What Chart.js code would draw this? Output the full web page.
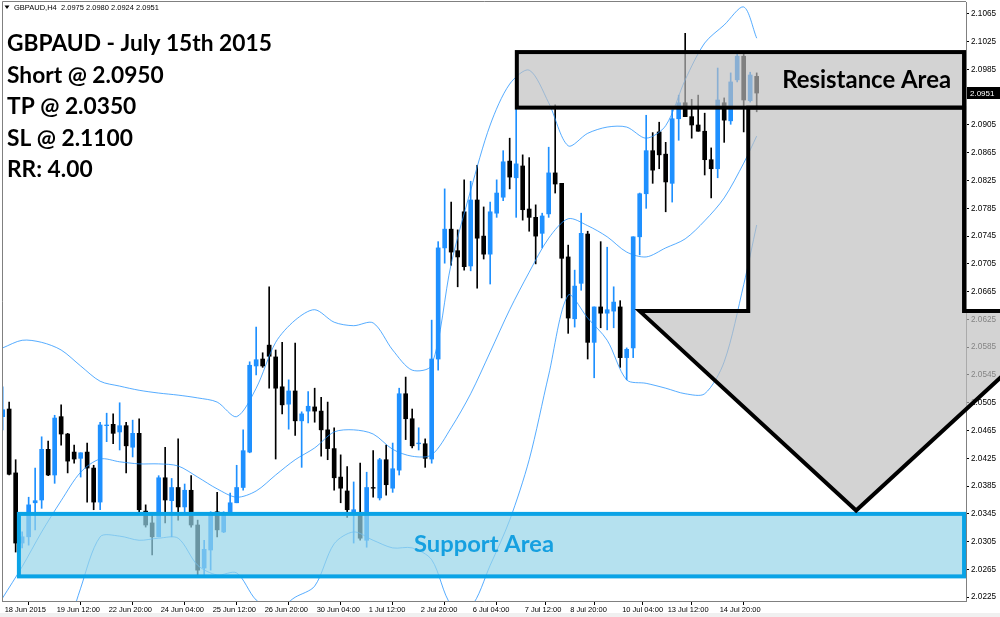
<!DOCTYPE html>
<html lang="en">
<head>
  <meta charset="UTF-8">
  <title>GBPAUD H4</title>
  <script src="https://cdn.jsdelivr.net/npm/chart.js"></script>
  <style>
    html, body { margin: 0; padding: 0; background: #fff; }
    canvas { display: block; }
  </style>
</head>
<body>
  <canvas id="chart" width="1000" height="617"></canvas>

  <script>
    // H4 candles, 18 Jun 2015 -> 15 Jul 2015
    const opens = [
      2.0485, 2.0496, 2.0404, 2.0303, 2.0312, 2.0361, 2.0365, 2.0438, 2.0401, 2.0485,
      2.0460, 2.0434, 2.0425, 2.0434, 2.0411, 2.0362, 2.0472, 2.0474, 2.0463, 2.0472,
      2.0441, 2.0461, 2.0349, 2.0332, 2.0312, 2.0397, 2.0364, 2.0383, 2.0355, 2.0379,
      2.0329, 2.0267, 2.0293, 2.0348, 2.0319, 2.0348, 2.0361, 2.0383, 2.0434, 2.0558,
      2.0568, 2.0588, 2.0571, 2.0528, 2.0503, 2.0522, 2.0479, 2.0493, 2.0499, 2.0493,
      2.0466, 2.0439, 2.0398, 2.0378, 2.0348, 2.0346, 2.0307, 2.0383, 2.0368, 2.0423,
      2.0382, 2.0408, 2.0518, 2.0482, 2.0446, 2.0446, 2.0424, 2.0568, 2.0728, 2.0755,
      2.0724, 2.0780, 2.0702, 2.0797, 2.0745, 2.0719, 2.0778, 2.0801, 2.0853, 2.0829,
      2.0846, 2.0784, 2.0772, 2.0749, 2.0777, 2.0836, 2.0821, 2.0715, 2.0626, 2.0677,
      2.0748, 2.0592, 2.0643, 2.0634, 2.0637, 2.0643, 2.0570, 2.0584, 2.0744, 2.0806,
      2.0868, 2.0895, 2.0863, 2.0821, 2.0914, 2.0937, 2.0917, 2.0905, 2.0896, 2.0855,
      2.0842, 2.0937, 2.0911, 2.0970, 2.1004, 2.0940, 2.0975
    ];
    const highs = [
      2.0528, 2.0506, 2.0423, 2.0319, 2.0369, 2.0411, 2.0456, 2.0450, 2.0487, 2.0502,
      2.0461, 2.0444, 2.0433, 2.0447, 2.0415, 2.0477, 2.0490, 2.0489, 2.0505, 2.0477,
      2.0480, 2.0482, 2.0358, 2.0343, 2.0400, 2.0441, 2.0396, 2.0453, 2.0388, 2.0400,
      2.0336, 2.0307, 2.0348, 2.0376, 2.0348, 2.0375, 2.0415, 2.0466, 2.0564, 2.0614,
      2.0577, 2.0672, 2.0581, 2.0592, 2.0538, 2.0591, 2.0492, 2.0521, 2.0526, 2.0513,
      2.0506, 2.0469, 2.0430, 2.0413, 2.0391, 2.0418, 2.0405, 2.0436, 2.0425, 2.0444,
      2.0447, 2.0526, 2.0542, 2.0496, 2.0469, 2.0453, 2.0624, 2.0737, 2.0813, 2.0794,
      2.0754, 2.0826, 2.0824, 2.0847, 2.0787, 2.0794, 2.0826, 2.0868, 2.0886, 2.0934,
      2.0862, 2.0858, 2.0790, 2.0778, 2.0873, 2.0934, 2.0821, 2.0732, 2.0696, 2.0778,
      2.0752, 2.0643, 2.0737, 2.0729, 2.0672, 2.0652, 2.0584, 2.0744, 2.0807, 2.0919,
      2.0894, 2.0909, 2.0880, 2.0927, 2.0948, 2.1037, 2.0942, 2.0948, 2.0922, 2.0872,
      2.0987, 2.0944, 2.0980, 2.1009, 2.1009, 2.0981, 2.0980
    ];
    const lows = [
      2.0466, 2.0401, 2.0290, 2.0296, 2.0300, 2.0322, 2.0353, 2.0400, 2.0389, 2.0444,
      2.0404, 2.0418, 2.0398, 2.0362, 2.0351, 2.0351, 2.0449, 2.0446, 2.0437, 2.0404,
      2.0427, 2.0348, 2.0326, 2.0286, 2.0312, 2.0332, 2.0312, 2.0336, 2.0348, 2.0326,
      2.0254, 2.0257, 2.0264, 2.0312, 2.0318, 2.0348, 2.0361, 2.0379, 2.0433, 2.0545,
      2.0556, 2.0526, 2.0424, 2.0489, 2.0467, 2.0458, 2.0412, 2.0476, 2.0477, 2.0428,
      2.0423, 2.0379, 2.0361, 2.0340, 2.0303, 2.0307, 2.0297, 2.0369, 2.0365, 2.0372,
      2.0376, 2.0401, 2.0452, 2.0440, 2.0437, 2.0412, 2.0418, 2.0552, 2.0706, 2.0703,
      2.0672, 2.0696, 2.0695, 2.0670, 2.0712, 2.0676, 2.0772, 2.0796, 2.0813, 2.0772,
      2.0768, 2.0752, 2.0705, 2.0728, 2.0772, 2.0807, 2.0656, 2.0605, 2.0614, 2.0667,
      2.0568, 2.0541, 2.0613, 2.0610, 2.0613, 2.0556, 2.0538, 2.0570, 2.0718, 2.0785,
      2.0821, 2.0842, 2.0780, 2.0794, 2.0883, 2.0917, 2.0886, 2.0896, 2.0833, 2.0800,
      2.0829, 2.0880, 2.0906, 2.0967, 2.0895, 2.0938, 2.0924
    ];
    const closes = [
      2.0495, 2.0402, 2.0303, 2.0312, 2.0358, 2.0364, 2.0438, 2.0401, 2.0483, 2.0460,
      2.0421, 2.0424, 2.0433, 2.0411, 2.0362, 2.0473, 2.0473, 2.0461, 2.0472, 2.0443,
      2.0461, 2.0351, 2.0329, 2.0312, 2.0397, 2.0365, 2.0383, 2.0355, 2.0379, 2.0329,
      2.0264, 2.0294, 2.0346, 2.0322, 2.0346, 2.0361, 2.0383, 2.0436, 2.0559, 2.0567,
      2.0558, 2.0572, 2.0526, 2.0502, 2.0522, 2.0479, 2.0489, 2.0500, 2.0493, 2.0466,
      2.0439, 2.0397, 2.0382, 2.0351, 2.0351, 2.0310, 2.0383, 2.0382, 2.0423, 2.0387,
      2.0410, 2.0518, 2.0482, 2.0443, 2.0447, 2.0425, 2.0568, 2.0728, 2.0755, 2.0722,
      2.0715, 2.0701, 2.0797, 2.0742, 2.0719, 2.0780, 2.0807, 2.0852, 2.0830, 2.0849,
      2.0783, 2.0772, 2.0745, 2.0774, 2.0836, 2.0820, 2.0713, 2.0627, 2.0673, 2.0749,
      2.0592, 2.0643, 2.0634, 2.0639, 2.0650, 2.0570, 2.0582, 2.0744, 2.0806, 2.0868,
      2.0840, 2.0862, 2.0823, 2.0914, 2.0937, 2.0917, 2.0905, 2.0896, 2.0855, 2.0842,
      2.0941, 2.0912, 2.0967, 2.1004, 2.0941, 2.0977, 2.0951
    ];

    // Bollinger bands, read every third bar
    const bandIndex = [0, 3, 6, 9, 12, 15, 18, 21, 24, 27, 30, 33, 36, 39, 42, 45, 48, 51, 54, 57,
                       60, 63, 66, 69, 72, 75, 78, 81, 84, 87, 90, 93, 96, 99, 102, 105, 108, 111, 114, 116];
    const bandUpper = [
      2.0584, 2.0595, 2.0592, 2.0581, 2.0558, 2.0536, 2.0529, 2.0523, 2.0519, 2.0516,
      2.0512, 2.0506, 2.0485, 2.0526, 2.0592, 2.0624, 2.0639, 2.0621, 2.0616, 2.0620,
      2.0581, 2.0552, 2.0559, 2.0705, 2.0811, 2.0905, 2.0964, 2.0984, 2.0937, 2.0875,
      2.0893, 2.0902, 2.0902, 2.0886, 2.0904, 2.0970, 2.1023, 2.1049, 2.1075, 2.1030
    ];
    const bandMiddle = [
      2.0224, 2.0269, 2.0319, 2.0364, 2.0405, 2.0424, 2.0420, 2.0417, 2.0417, 2.0414,
      2.0398, 2.0381, 2.0369, 2.0378, 2.0401, 2.0423, 2.0440, 2.0463, 2.0466, 2.0460,
      2.0438, 2.0428, 2.0430, 2.0469, 2.0518, 2.0578, 2.0639, 2.0693, 2.0742, 2.0770,
      2.0760, 2.0744, 2.0722, 2.0715, 2.0728, 2.0741, 2.0767, 2.0800, 2.0850, 2.0889
    ];
    const bandLower = [
      1.9864, 1.9942, 2.0045, 2.0146, 2.0238, 2.0312, 2.0313, 2.0307, 2.0310, 2.0310,
      2.0271, 2.0257, 2.0260, 2.0221, 2.0207, 2.0225, 2.0241, 2.0302, 2.0319, 2.0307,
      2.0296, 2.0296, 2.0279, 2.0214, 2.0211, 2.0271, 2.0336, 2.0423, 2.0545, 2.0660,
      2.0627, 2.0595, 2.0538, 2.0533, 2.0526, 2.0518, 2.0518, 2.0564, 2.0675, 2.0761
    ];

    const yTickValues = [
      2.0225, 2.0265, 2.0305, 2.0345, 2.0385, 2.0425, 2.0465, 2.0505, 2.0545, 2.0585, 2.0625,
      2.0665, 2.0705, 2.0745, 2.0785, 2.0825, 2.0865, 2.0905, 2.0945, 2.0985, 2.1025, 2.1065
    ];
    const xTickIndex = [0, 8, 16, 24, 32, 40, 48, 56, 64, 72, 80, 87, 95, 102, 110];
    const xTickLabels = [
      '18 Jun 2015', '19 Jun 12:00', '22 Jun 20:00', '24 Jun 04:00', '25 Jun 12:00',
      '26 Jun 20:00', '30 Jun 04:00', '1 Jul 12:00', '2 Jul 20:00', '6 Jul 04:00',
      '7 Jul 12:00', '8 Jul 20:00', '10 Jul 04:00', '13 Jul 12:00', '14 Jul 20:00'
    ];

    const headerText = 'GBPAUD,H4  2.0975 2.0980 2.0924 2.0951';
    const noteLines = ['GBPAUD - July 15th 2015', 'Short @ 2.0950', 'TP @ 2.0350', 'SL @ 2.1100', 'RR: 4.00'];

    // drawn zones (price ranges) and their bar-index spans
    const resistanceZone = [2.0930, 2.1010];
    const resistanceSpan = [79.1, 147.9];
    const supportZone = [2.0255, 2.0345];
    const supportSpan = [2.5, 147.9];
    // arrow: stem from resistance down to head base, tip at TP
    const arrowStem = [114.7, 147.9];
    const arrowHead = [98.0, 131.3, 164.6];
    const arrowLevels = [2.0930, 2.0637, 2.0350];

    const BLUE = '#1e90ff';
    const isUp = closes.map((c, i) => c >= opens[i]);
    const candleColors = isUp.map(u => u ? BLUE : '#000000');

    Chart.defaults.font.family = '"Liberation Sans", Arial, sans-serif';
    Chart.defaults.color = '#000';

    function fitSize(c, text, width, family) {
      c.font = 'bold 100px ' + family;
      return 100 * width / c.measureText(text).width;
    }

    const drawings = {
      id: 'drawings',
      beforeDraw(chart) {
        const c = chart.ctx;
        c.save();
        c.fillStyle = '#ffffff';
        c.fillRect(0, 0, chart.width, chart.height);
        c.fillStyle = '#f0f0f0';
        c.fillRect(0, 613, chart.width, chart.height - 613);
        c.restore();
      },
      afterDatasetsDraw(chart) {
        const c = chart.ctx, a = chart.chartArea, x = chart.scales.x, y = chart.scales.y;
        c.save();

        // frame (left + top)
        c.strokeStyle = '#808080';
        c.lineWidth = 1;
        c.beginPath();
        c.moveTo(a.left + 0.5, a.bottom);
        c.lineTo(a.left + 0.5, a.top - 0.5);
        c.lineTo(a.right, a.top - 0.5);
        c.stroke();

        // support area
        const sL = x.getPixelForValue(supportSpan[0]), sR = x.getPixelForValue(supportSpan[1]);
        const sT = y.getPixelForValue(supportZone[1]), sB = y.getPixelForValue(supportZone[0]);
        c.fillStyle = 'rgba(150,212,232,0.7)';
        c.fillRect(sL, sT, sR - sL, sB - sT);
        c.lineWidth = 4;
        c.strokeStyle = '#0aa3e6';
        c.strokeRect(sL, sT, sR - sL, sB - sT);

        // resistance area
        const rL = x.getPixelForValue(resistanceSpan[0]), rR = x.getPixelForValue(resistanceSpan[1]);
        const rT = y.getPixelForValue(resistanceZone[1]), rB = y.getPixelForValue(resistanceZone[0]);
        c.fillStyle = 'rgba(190,190,190,0.675)';
        c.fillRect(rL, rT, rR - rL, rB - rT);
        c.strokeStyle = '#000';
        c.strokeRect(rL, rT, rR - rL, rB - rT);

        // down arrow
        const s0 = x.getPixelForValue(arrowStem[0]), s1 = x.getPixelForValue(arrowStem[1]);
        const h0 = x.getPixelForValue(arrowHead[0]), h1 = x.getPixelForValue(arrowHead[1]), h2 = x.getPixelForValue(arrowHead[2]);
        const yTop = y.getPixelForValue(arrowLevels[0]), yBase = y.getPixelForValue(arrowLevels[1]), yTip = y.getPixelForValue(arrowLevels[2]);
        c.beginPath();
        c.moveTo(s0, yTop);
        c.lineTo(s0, yBase);
        c.lineTo(h0, yBase);
        c.lineTo(h1, yTip);
        c.lineTo(h2, yBase);
        c.lineTo(s1, yBase);
        c.lineTo(s1, yTop);
        c.closePath();
        c.fillStyle = 'rgba(190,190,190,0.675)';
        c.fill();
        c.lineJoin = 'miter';
        c.lineWidth = 4;
        c.strokeStyle = '#000';
        c.stroke();

        // notes
        const fam = 'Lato, "Open Sans", sans-serif';
        const size = fitSize(c, noteLines[0], 265, fam);
        c.font = 'bold ' + size + 'px ' + fam;
        c.fillStyle = '#000';
        c.textAlign = 'left';
        c.textBaseline = 'alphabetic';
        noteLines.forEach((t, k) => c.fillText(t, 7, 51 + k * 31.5));

        const rSize = fitSize(c, 'Resistance Area', 169, fam);
        c.font = 'bold ' + rSize + 'px ' + fam;
        c.textAlign = 'right';
        c.fillText('Resistance Area', rR - 13, rB - 20);

        const sSize = fitSize(c, 'Support Area', 140, fam);
        c.font = 'bold ' + sSize + 'px ' + fam;
        c.textAlign = 'center';
        c.fillStyle = '#16a0e0';
        c.fillText('Support Area', 484, sB - 24);

        // header
        c.fillStyle = '#000';
        c.beginPath();
        c.moveTo(4.5, 5.5); c.lineTo(9.5, 5.5); c.lineTo(7, 9);
        c.closePath();
        c.fill();
        c.font = '7.5px "Liberation Sans", Arial, sans-serif';
        c.textAlign = 'left';
        c.textBaseline = 'middle';
        c.fillText(headerText, 14, 8);

        // last price tag
        const last = closes[closes.length - 1];
        const py = Math.round(y.getPixelForValue(last));
        c.fillStyle = '#000';
        c.fillRect(a.right + 1, py - 6, 34, 12);
        c.fillStyle = '#fff';
        c.font = '8px "Liberation Sans", Arial, sans-serif';
        c.fillText(last.toFixed(4), a.right + 4, py + 0.5);

        c.restore();
      }
    };

    const bodies = opens.map((o, i) => ({ x: i, y: [o, closes[i]] }));
    const wicks = lows.map((l, i) => ({ x: i, y: [l, highs[i]] }));
    const band = arr => bandIndex.map((b, k) => ({ x: b, y: arr[k] }));
    const bandStyle = {
      type: 'line', borderColor: 'rgba(30,144,255,0.75)', borderWidth: 1,
      pointRadius: 0, tension: 0.3, fill: false, order: 0
    };

    new Chart(document.getElementById('chart'), {
      type: 'bar',
      data: {
        datasets: [
          Object.assign({ label: 'Upper', data: band(bandUpper) }, bandStyle),
          Object.assign({ label: 'Middle', data: band(bandMiddle) }, bandStyle),
          Object.assign({ label: 'Lower', data: band(bandLower) }, bandStyle),
          { label: 'Body', data: bodies, backgroundColor: candleColors, barThickness: 4, grouped: false, order: 1 },
          { label: 'Wick', data: wicks, backgroundColor: candleColors, barThickness: 1, grouped: false, order: 2 }
        ]
      },
      options: {
        responsive: false,
        animation: false,
        layout: { padding: { left: 2, top: 2, right: 0, bottom: 0 } },
        plugins: { legend: { display: false }, tooltip: { enabled: false } },
        scales: {
          x: {
            type: 'linear', min: -0.1, max: 148.2, offset: false,
            afterBuildTicks: s => { s.ticks = xTickIndex.map(v => ({ value: v })); },
            afterFit: s => { s.height = 16; s.paddingLeft = 0; s.paddingRight = 0; },
            ticks: {
              autoSkip: false, maxRotation: 0, align: 'start', labelOffset: 2, padding: 0,
              font: { size: 7.5 }, color: '#000',
              callback: (v, i) => xTickLabels[i]
            },
            grid: { drawOnChartArea: false, tickLength: 4, color: '#000' },
            border: { display: true, color: '#808080' }
          },
          y: {
            type: 'linear', position: 'right', min: 2.021956, max: 2.10821,
            afterBuildTicks: s => { s.ticks = yTickValues.map(v => ({ value: v })); },
            afterFit: s => { s.width = 34; s.paddingTop = 0; s.paddingBottom = 0; },
            ticks: { font: { size: 8.2 }, color: '#000', padding: 2, callback: v => v.toFixed(4) },
            grid: { drawOnChartArea: false, tickLength: 3, color: '#000' },
            border: { display: true, color: '#808080' }
          }
        }
      },
      plugins: [drawings]
    });
  </script>
</body>
</html>
